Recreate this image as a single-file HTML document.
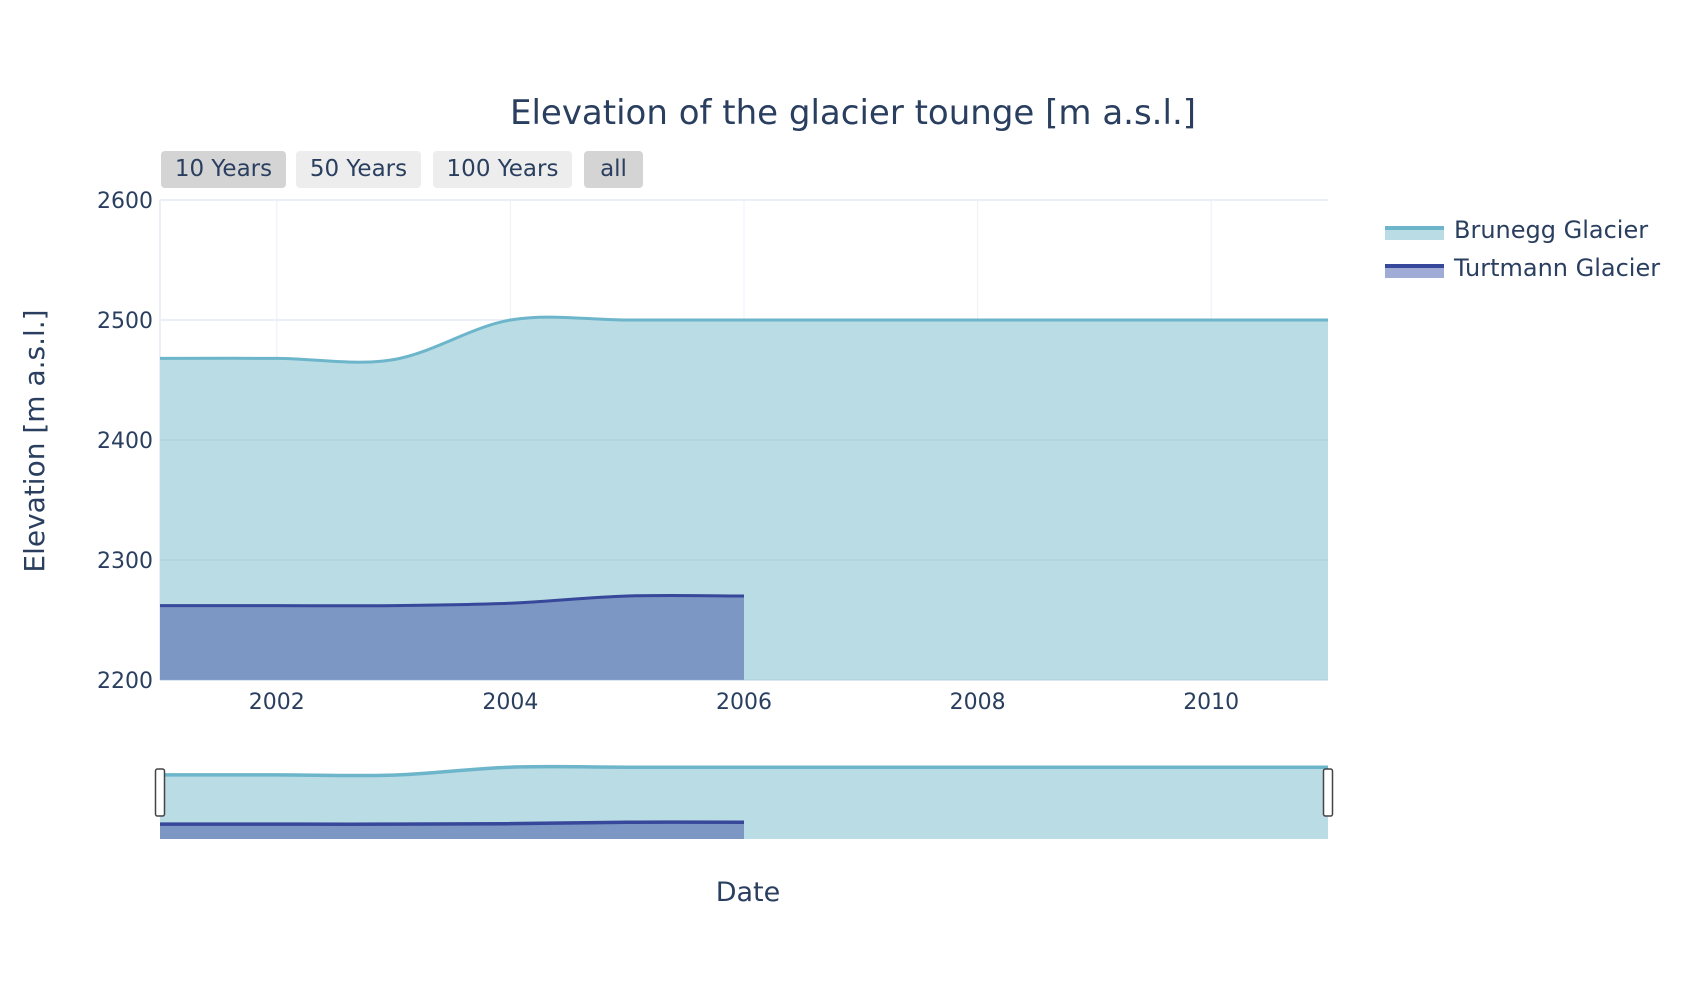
<!DOCTYPE html>
<html><head><meta charset="utf-8"><style>
body{margin:0;background:#fff;font-family:"Liberation Sans","DejaVu Sans",sans-serif}
svg text{font-family:"DejaVu Sans","Liberation Sans",sans-serif;fill:#2a3f5f}
</style></head><body>
<svg id="c" width="1700" height="1000" xmlns="http://www.w3.org/2000/svg"></svg>
<script>
const years = [2001,2002,2003,2004,2005,2006,2007,2008,2009,2010,2011];
const bruneggValues = [2468,2468,2467,2500,2500,2500,2500,2500,2500,2500,2500];
const turtYears = [2001,2002,2003,2004,2005,2006];
const turtValues = [2262,2262,2262,2264,2270,2270];
const yTicks = [2200,2300,2400,2500,2600];
const xTicks = [2002,2004,2006,2008,2010];
const buttonLabels = ["10 Years","50 Years","100 Years","all"];

const NS="http://www.w3.org/2000/svg", svg=document.getElementById('c');
function mk(tag,attrs,parent){const e=document.createElementNS(NS,tag);for(const k in attrs)e.setAttribute(k,attrs[k]);(parent||svg).appendChild(e);return e;}
const L=160,R=1328,T=200,B=680;
const x=v=>L+(v-2001)/(2011-2001)*(R-L);
const y=v=>B-(v-2200)/(2600-2200)*(B-T);
const sT=766,sB=839;
const sy=v=>sB-(v-2200)/(2505-2200)*(sB-sT);
function spline(xs,ys,fx,fy){
  const p=xs.map((v,i)=>[fx(v),fy(ys[i])]);
  let d=`M${p[0][0]},${p[0][1]}`;
  for(let i=0;i<p.length-1;i++){
    const p0=p[Math.max(0,i-1)],p1=p[i],p2=p[i+1],p3=p[Math.min(p.length-1,i+2)];
    const c1=[p1[0]+(p2[0]-p0[0])/6,p1[1]+(p2[1]-p0[1])/6];
    const c2=[p2[0]-(p3[0]-p1[0])/6,p2[1]-(p3[1]-p1[1])/6];
    d+=` C${c1[0]},${c1[1]} ${c2[0]},${c2[1]} ${p2[0]},${p2[1]}`;
  }
  return d;
}
xTicks.forEach(t=>{const g=mk('line',{x1:x(t),x2:x(t),y1:T,y2:B,stroke:'#ebf0f8','stroke-width':1});
});
yTicks.forEach(t=>{const g=mk('line',{x1:L,x2:R,y1:y(t),y2:y(t),stroke:'#ebf0f8','stroke-width':2});
});
const ax=mk('line',{x1:L,x2:L,y1:T,y2:B,stroke:'#ebf0f8','stroke-width':2});

function series(xs,ys,fx,fy,base,fill,line,name,w){
  const d=spline(xs,ys,fx,fy);
  const a=mk('path',{d:d+` L${fx(xs[xs.length-1])},${base} L${fx(xs[0])},${base} Z`,fill:fill});
  
  const l=mk('path',{d:d,fill:'none',stroke:line,'stroke-width':w});
  
}
series(years,bruneggValues,x,y,B,'#badce5','#6db5ca','brunegg',3);
series(turtYears,turtValues,x,y,B,'#7c97c3','#37479a','turtmann',3);
yTicks.filter(t=>t<2500).forEach(t=>{const g=mk('line',{x1:L,x2:R,y1:y(t),y2:y(t),stroke:'rgba(150,190,210,0.2)','stroke-width':2});
});
yTicks.forEach(t=>{const e=mk('text',{x:153,y:y(t)+8,'text-anchor':'end','font-size':22});e.textContent=t;
});
xTicks.forEach(t=>{const e=mk('text',{x:x(t),y:709,'text-anchor':'middle','font-size':22});e.textContent=t;
});
series(years,bruneggValues,x,sy,sB,'#badce5','#6db5ca','slider-brunegg',3.5);
series(turtYears,turtValues,x,sy,sB,'#7c97c3','#37479a','slider-turtmann',3.5);
[L,R].forEach((hx,i)=>{const h=mk('rect',{x:hx-4.5,y:769,width:9,height:47,rx:2,fill:'#fff',stroke:'#444','stroke-width':1.5});
});
const bx=[161,296,433,584],bw=[125,125,139,59];
buttonLabels.forEach((b,i)=>{
  const r=mk('rect',{x:bx[i],y:151,width:bw[i],height:37,rx:4,fill:(i==0||i==3)?'#d4d4d4':'#ededed'});
  
  const t=mk('text',{x:bx[i]+bw[i]/2,y:176,'text-anchor':'middle','font-size':23});t.textContent=b;
  
});
let e=mk('text',{x:853,y:124,'text-anchor':'middle','font-size':34});e.textContent='Elevation of the glacier tounge [m a.s.l.]';

e=mk('text',{x:0,y:0,'text-anchor':'middle','font-size':28,transform:'translate(44,441) rotate(-90)'});e.textContent='Elevation [m a.s.l.]';

e=mk('text',{x:748,y:901,'text-anchor':'middle','font-size':27});e.textContent='Date';

[['Brunegg Glacier','#badce5','#6db5ca',230],['Turtmann Glacier','#a0acd6','#37479a',268]].forEach(([n,f,c,ly])=>{
  const g=mk('g',{});
  mk('rect',{x:1385,y:ly-2,width:59,height:12,fill:f},g);
  mk('line',{x1:1385,x2:1444,y1:ly-2,y2:ly-2,stroke:c,'stroke-width':4},g);
  const t=mk('text',{x:1454,y:ly+8,'font-size':24},g);t.textContent=n;
});
</script></body></html>
